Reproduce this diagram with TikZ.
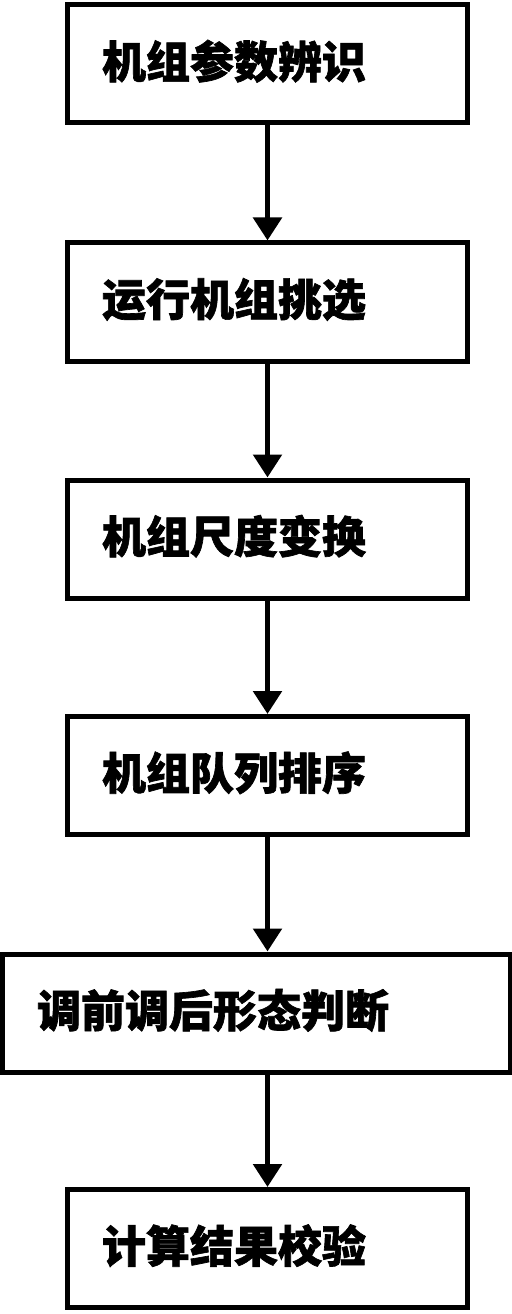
\documentclass[tikz,border=0pt]{standalone}
\usepackage{fontspec}
\newfontfamily\cjk[BoldFeatures={FakeBold=1.5}]{Noto Sans CJK SC}
\usetikzlibrary{arrows.meta}
\tikzset{
  stepbox/.style={draw=black, line width=5bp, rectangle, minimum height=118bp,
    inner xsep=34bp, align=left, font=\cjk\bfseries\fontsize{44bp}{48bp}\selectfont},
  narrowbox/.style={stepbox, text width=331bp},
  widebox/.style={stepbox, text width=439bp},
  flow/.style={line width=5.5bp, -{Triangle[width=28bp,length=23bp]}}
}
\begin{document}
\begin{tikzpicture}[x=1bp,y=-1bp]
\useasboundingbox (0,0) rectangle (512,1314);
\node[narrowbox] (b1) at (267.5,64) {\raisebox{10bp}{机组参数辨识}};
\node[narrowbox] (b2) at (267.5,302) {\raisebox{10bp}{运行机组挑选}};
\node[narrowbox] (b3) at (267.5,539) {\raisebox{10bp}{机组尺度变换}};
\node[narrowbox] (b4) at (267.5,775.5) {\raisebox{10bp}{机组队列排序}};
\node[widebox] (b5) at (256.5,1013) {\raisebox{10bp}{调前调后形态判断}};
\node[narrowbox] (b6) at (267.5,1248.5) {\raisebox{10bp}{计算结果校验}};
\draw[flow] (b1.south) -- (b2.north);
\draw[flow] (b2.south) -- (b3.north);
\draw[flow] (b3.south) -- (b4.north);
\draw[flow] (b4.south) -- (b4.south |- b5.north);
\draw[flow] (b4.south |- b5.south) -- (b6.north);
\end{tikzpicture}
\end{document}
